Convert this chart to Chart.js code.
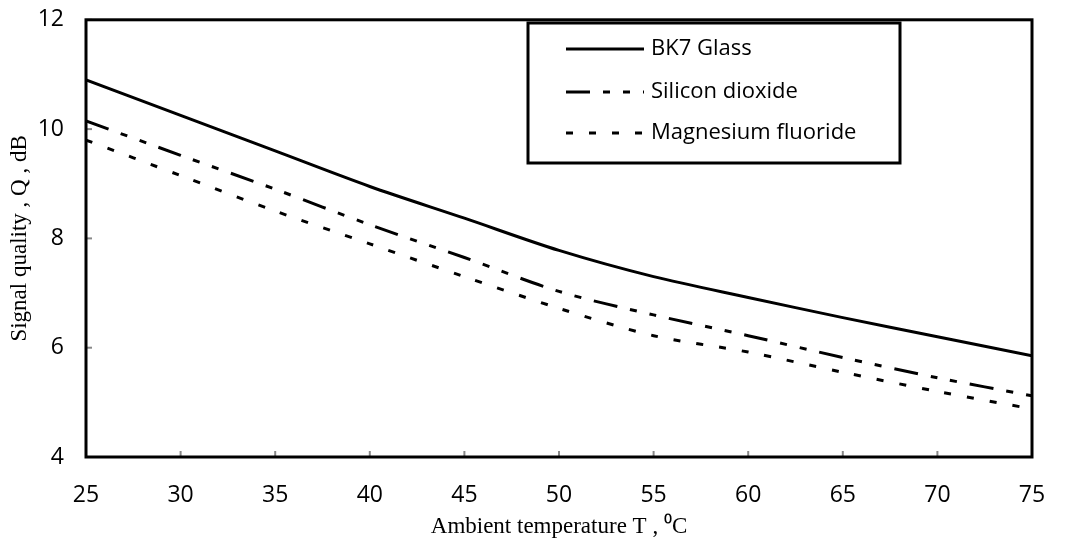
<!DOCTYPE html>
<html>
<head>
<meta charset="utf-8">
<script src="https://cdn.jsdelivr.net/npm/chart.js@4/dist/chart.umd.min.js"></script>
<style>
  html, body { margin: 0; padding: 0; background: #fff; overflow: hidden; }
  #wrap { width: 1081px; height: 555px; position: relative; margin-top: -8px; }
</style>
</head>
<body>
<div id="wrap"><canvas id="myChart"></canvas></div>
<script>
// data
var temps = [25, 30, 35, 40, 45, 50, 55, 60, 65, 70, 75];
var bk7 = [10.9, 10.25, 9.6, 8.95, 8.37, 7.78, 7.3, 6.92, 6.55, 6.2, 5.85];
var silicon = [10.15, 9.52, 8.9, 8.25, 7.65, 7.03, 6.6, 6.22, 5.82, 5.45, 5.12];
var magnesium = [9.8, 9.15, 8.5, 7.9, 7.3, 6.72, 6.22, 5.92, 5.55, 5.2, 4.88];
var yTicks = [4, 6, 8, 10, 12];
var xTicks = [25, 30, 35, 40, 45, 50, 55, 60, 65, 70, 75];

var seriesNames = ['BK7 Glass', 'Silicon dioxide', 'Magnesium fluoride'];
var seriesDash = [[], [24, 13, 7, 13, 7, 13], [7, 16]];
var seriesValues = [bk7, silicon, magnesium];

function toPoints(vals) {
    return vals.map(function (v, i) { return { x: temps[i], y: v }; });
}

var datasets = [];
for (var i = 0; i < seriesNames.length; i++) {
    datasets.push({
        label: seriesNames[i],
        data: toPoints(seriesValues[i]),
        borderColor: '#000',
        borderWidth: 3,
        borderDash: seriesDash[i],
        pointRadius: 0,
        fill: false,
        tension: 0.3
    });
}

var tickFont = { size: 23, family: '"Open Sans", Lato, sans-serif' };
var titleFont = { size: 23, family: '"Liberation Serif", serif' };

// frame, inner ticks and boxed legend (canvas is shifted up 8px)
var framePlugin = {
    id: 'frame',
    afterDraw: function (chart) {
        var ctx = chart.ctx;
        var a = chart.chartArea;
        var xs = chart.scales.x, ys = chart.scales.y;
        ctx.save();
        ctx.strokeStyle = '#888';
        ctx.lineWidth = 2;
        xTicks.forEach(function (t) {
            var px = xs.getPixelForValue(t);
            ctx.beginPath(); ctx.moveTo(px, a.bottom); ctx.lineTo(px, a.bottom - 6); ctx.stroke();
        });
        yTicks.forEach(function (t) {
            var py = ys.getPixelForValue(t);
            ctx.beginPath(); ctx.moveTo(a.left, py); ctx.lineTo(a.left + 6, py); ctx.stroke();
        });
        ctx.strokeStyle = '#000';
        ctx.lineWidth = 3;
        ctx.strokeRect(a.left, a.top, a.right - a.left, a.bottom - a.top);

        // legend box
        var off = 8;
        var lx = 528, ly = 23 + off, lw = 372, lh = 140;
        ctx.fillStyle = '#fff';
        ctx.fillRect(lx, ly, lw, lh);
        ctx.lineWidth = 3;
        ctx.strokeRect(lx, ly, lw, lh);
        var rows = [49, 92, 133];
        ctx.font = '22px "Open Sans", Lato, sans-serif';
        ctx.textBaseline = 'middle';
        for (var k = 0; k < seriesNames.length; k++) {
            var ry = rows[k] + off;
            ctx.setLineDash(seriesDash[k]);
            ctx.lineWidth = 3;
            ctx.beginPath(); ctx.moveTo(566, ry); ctx.lineTo(644, ry); ctx.stroke();
            ctx.setLineDash([]);
            ctx.fillStyle = '#000';
            ctx.fillText(seriesNames[k], 651, ry);
        }
        ctx.restore();
    }
};

var ctx = document.getElementById('myChart').getContext('2d');
var chart = new Chart(ctx, {
    type: 'line',
    data: { datasets: datasets },
    options: {
        responsive: true,
        maintainAspectRatio: false,
        animation: false,
        layout: { padding: { left: 0, right: 49, top: 5, bottom: 0 } },
        plugins: { legend: { display: false }, tooltip: { enabled: false } },
        scales: {
            x: {
                type: 'linear',
                min: 25, max: 75,
                afterBuildTicks: function (s) { s.ticks = xTicks.map(function (v) { return { value: v }; }); },
                afterFit: function (s) { s.height = 90; },
                grid: { display: false },
                border: { display: false },
                ticks: { color: '#000', font: tickFont, padding: 17 },
                title: {
                    display: true,
                    text: 'Ambient temperature T , \u2070C',
                    color: '#000',
                    font: titleFont,
                    padding: { top: 4, bottom: 6 }
                }
            },
            y: {
                min: 4, max: 12,
                afterBuildTicks: function (s) { s.ticks = yTicks.map(function (v) { return { value: v }; }); },
                afterFit: function (s) { s.width = 86; },
                grid: { display: false },
                border: { display: false },
                ticks: { color: '#000', font: tickFont, padding: 14 },
                title: {
                    display: true,
                    text: 'Signal quality , Q , dB',
                    color: '#000',
                    font: titleFont,
                    padding: { top: 6, bottom: 0 }
                }
            }
        }
    },
    plugins: [framePlugin]
});
</script>
</body>
</html>
